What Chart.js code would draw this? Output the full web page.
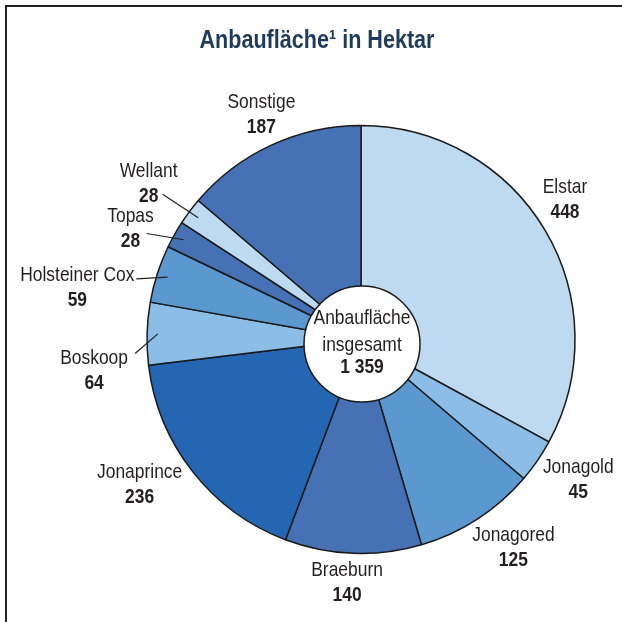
<!DOCTYPE html>
<html>
<head>
<meta charset="utf-8">
<script src="https://cdn.jsdelivr.net/npm/chart.js@4/dist/chart.umd.min.js"></script>
<style>
  html, body { margin: 0; padding: 0; background: #fff; }
  canvas { display: block; }
</style>
</head>
<body>
<canvas id="myChart" width="622" height="622"></canvas>
<script>
// Daten: Anbauflaeche je Sorte in Hektar
var sorten = ["Elstar", "Jonagold", "Jonagored", "Braeburn", "Jonaprince", "Boskoop", "Holsteiner Cox", "Topas", "Wellant", "Sonstige"];
var flaeche = [448, 45, 125, 140, 236, 64, 59, 28, 28, 187];
var titel = "Anbaufläche¹ in Hektar";
var mitteText = ["Anbaufläche", "insgesamt"];
var gesamt = "1 359";

var farben = ["#bddaf1", "#8cbde6", "#5b98d0", "#4672b5", "#2466b1", "#8cbde6", "#5b98d0", "#4672b5", "#bddaf1", "#4672b5"];

// Verschiebung der Beschriftung gegenueber dem Aussenrand (Mitte des Segments)
var labelShift = [[20, -43], [41, 6], [36, 16], [-6, 17], [-53, 1], [-53, 25], [-80, 1], [-44, -18], [-41, -40], [-10, -43]];
// Ende der Hinweislinie relativ zur Beschriftung
var leaderEnd = [null, null, null, null, null, [41, -5], [59, 4], [16, 17], [14, 23], null];

// schmale Schrift, falls vorhanden, sonst Liberation Sans zusammengedrueckt
var textFont = "Liberation Sans";
var squeeze = 0.83;
(function () {
  var c = document.createElement("canvas").getContext("2d");
  c.font = "20px monospace";
  var a = c.measureText("Wellant Cox").width;
  c.font = '20px "Liberation Sans Narrow", monospace';
  var b = c.measureText("Wellant Cox").width;
  if (a != b) {
    textFont = "Liberation Sans Narrow";
    squeeze = 1;
  }
})();

function txt(ctx, s, x, y, size, bold, color) {
  ctx.save();
  ctx.font = (bold ? "bold " : "") + size + 'px "' + textFont + '"';
  ctx.fillStyle = color || "#231f20";
  ctx.textAlign = "center";
  ctx.textBaseline = "middle";
  ctx.translate(x, y);
  ctx.scale(squeeze, 1);
  ctx.fillText(s, 0, 0);
  ctx.restore();
}

var beschriftung = {
  id: "beschriftung",
  beforeDraw: function (chart) {
    var ctx = chart.ctx;
    ctx.save();
    ctx.fillStyle = "#fff";
    ctx.fillRect(0, 0, chart.width, chart.height);
    // Rahmen oben und links
    ctx.strokeStyle = "#222";
    ctx.lineWidth = 2;
    ctx.beginPath();
    ctx.moveTo(6, chart.height);
    ctx.lineTo(6, 6);
    ctx.lineTo(chart.width, 6);
    ctx.stroke();
    ctx.restore();
    txt(ctx, titel, 317, 41, 26, true, "#1f3b5b");
  },
  afterDatasetsDraw: function (chart) {
    var ctx = chart.ctx;
    var meta = chart.getDatasetMeta(0);
    var cx = 0, cy = 0;
    meta.data.forEach(function (arc, i) {
      var p = arc.getProps(["x", "y", "startAngle", "endAngle", "outerRadius"], true);
      cx = p.x; cy = p.y;
      var mid = (p.startAngle + p.endAngle) / 2;
      var ox = p.x + Math.cos(mid) * p.outerRadius;
      var oy = p.y + Math.sin(mid) * p.outerRadius;
      var lx = ox + labelShift[i][0];
      var ly = oy + labelShift[i][1];
      txt(ctx, sorten[i], lx, ly, 21, false);
      txt(ctx, String(flaeche[i]), lx, ly + 25, 21, true);
      if (leaderEnd[i]) {
        ctx.save();
        ctx.strokeStyle = "#231f20";
        ctx.lineWidth = 1.2;
        ctx.beginPath();
        ctx.moveTo(p.x + Math.cos(mid) * p.outerRadius * 0.95, p.y + Math.sin(mid) * p.outerRadius * 0.95);
        ctx.lineTo(lx + leaderEnd[i][0], ly + leaderEnd[i][1]);
        ctx.stroke();
        ctx.restore();
      }
    });
    // weisser Kreis in der Mitte
    var kx = cx + 1, ky = cy + 4.5;
    ctx.save();
    ctx.beginPath();
    ctx.arc(kx, ky, 58, 0, Math.PI * 2);
    ctx.fillStyle = "#fff";
    ctx.fill();
    ctx.strokeStyle = "#1a1a1a";
    ctx.lineWidth = 1.5;
    ctx.stroke();
    ctx.restore();
    txt(ctx, mitteText[0], kx, ky - 26, 21, false);
    txt(ctx, mitteText[1], kx, ky + 1, 21, false);
    txt(ctx, gesamt, kx, ky + 23, 21, true);
  }
};

var myChart = new Chart(document.getElementById("myChart"), {
  type: "pie",
  data: {
    labels: sorten,
    datasets: [{
      data: flaeche,
      backgroundColor: farben,
      borderColor: "#1a1a1a",
      borderWidth: 1.5
    }]
  },
  options: {
    responsive: false,
    animation: false,
    radius: 214,
    layout: { padding: { left: 100, right: 0, top: 57, bottom: 0 } },
    plugins: {
      legend: { display: false },
      tooltip: { enabled: false }
    }
  },
  plugins: [beschriftung]
});
</script>
</body>
</html>
